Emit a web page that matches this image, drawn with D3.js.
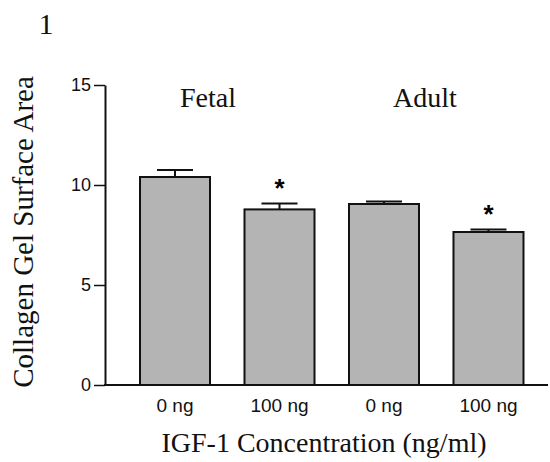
<!DOCTYPE html>
<html><head><meta charset="utf-8">
<script src="https://cdn.jsdelivr.net/npm/d3@7"></script>
<style>body{margin:0;background:#fff}svg{display:block}</style>
</head><body>
<svg id="c" width="550" height="462"></svg>
<script>
const categories = ["0 ng", "100 ng", "0 ng", "100 ng"];
const values = [10.4, 8.78, 9.05, 7.65];
const errors = [0.35, 0.3, 0.12, 0.13];
const significant = [false, true, false, true];
const groups = ["Fetal", "Adult"];
const yTicks = [0, 5, 10, 15];

const svg = d3.select("#c");
const x = d3.scaleBand().domain(d3.range(categories.length)).range([105, 558.5]).paddingInner(0.33).paddingOuter(0.335);
const y = d3.scaleLinear().domain([0, 15]).range([385, 85]);

// bars
svg.selectAll("rect.bar").data(values).enter().append("rect")
  .attr("x", (d,i)=>x(i)).attr("width", x.bandwidth())
  .attr("y", d=>y(d)).attr("height", d=>y(0)-y(d))
  .attr("fill", "#b4b4b4").attr("stroke", "#111").attr("stroke-width", 2);

// error bars
const cap = 36;
values.forEach((v,i)=>{
  const cx = x(i)+x.bandwidth()/2;
  svg.append("line").attr("x1",cx).attr("x2",cx).attr("y1",y(v)).attr("y2",y(v+errors[i])).attr("stroke","#111").attr("stroke-width",2);
  svg.append("line").attr("x1",cx-cap/2).attr("x2",cx+cap/2).attr("y1",y(v+errors[i])).attr("y2",y(v+errors[i])).attr("stroke","#111").attr("stroke-width",2);
  if (significant[i]) {
    svg.append("text").attr("x",cx).attr("y",y(v+errors[i])-6).attr("text-anchor","middle")
      .attr("font-family","Liberation Sans, Arial, sans-serif").attr("font-size",26).attr("font-weight","bold").text("*");
  }
});

// y axis
const yAxis = d3.axisLeft(y).tickValues(yTicks).tickSize(11).tickPadding(3).tickSizeOuter(0);
const gy = svg.append("g").attr("transform","translate(105,0)").call(yAxis);
gy.select(".domain").attr("stroke","#111").attr("stroke-width",2);
gy.selectAll(".tick line").attr("stroke","#111").attr("stroke-width",1.5);
gy.selectAll(".tick text").attr("font-family","Liberation Sans, Arial, sans-serif").attr("font-size",18).attr("fill","#111");
// x axis line
svg.append("line").attr("x1",104).attr("x2",548).attr("y1",y(0)).attr("y2",y(0)).attr("stroke","#111").attr("stroke-width",2);

// x tick labels
const xAxis = d3.axisBottom(x).tickFormat(i=>categories[i]).tickSize(0).tickPadding(14);
const gx = svg.append("g").attr("transform",`translate(0,${y(0)})`).call(xAxis);
gx.select(".domain").remove();
gx.selectAll(".tick text").attr("font-family","Liberation Sans, Arial, sans-serif").attr("font-size",19).attr("fill","#111");

// group labels
const groupLabelX = [208, 425];
groups.forEach((g,k)=>{
  svg.append("text").attr("x",groupLabelX[k]).attr("y",107).attr("text-anchor","middle")
    .attr("font-family","Liberation Serif, Times New Roman, serif").attr("font-size",28).attr("fill","#111").text(g);
});

// axis titles
svg.append("text").attr("x",324).attr("y",452).attr("text-anchor","middle")
  .attr("font-family","Liberation Serif, Times New Roman, serif").attr("font-size",28).attr("fill","#111").text("IGF-1 Concentration (ng/ml)");
svg.append("text").attr("transform","translate(33,232) rotate(-90)").attr("text-anchor","middle")
  .attr("font-family","Liberation Serif, Times New Roman, serif").attr("font-size",29).attr("fill","#111").text("Collagen Gel Surface Area");
svg.append("text").attr("x",46).attr("y",34).attr("text-anchor","middle")
  .attr("font-family","Liberation Serif, Times New Roman, serif").attr("font-size",30).attr("fill","#111").text("1");
</script>
</body></html>
